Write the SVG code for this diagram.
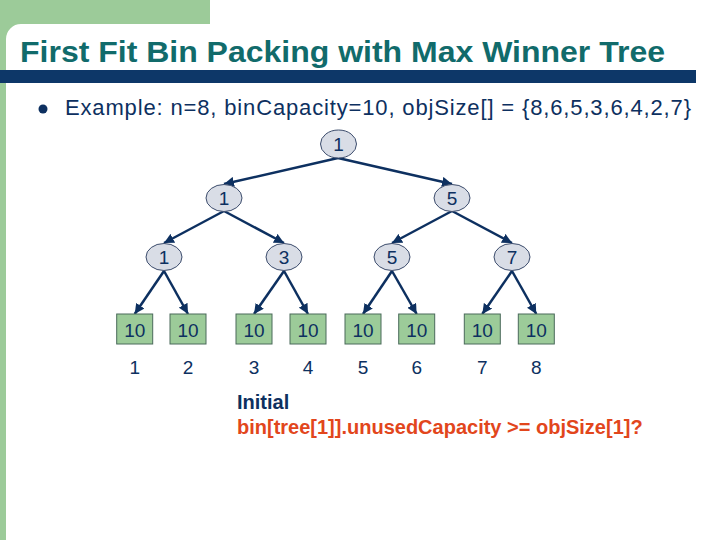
<svg xmlns="http://www.w3.org/2000/svg" width="720" height="540" viewBox="0 0 720 540">
<defs>
<style>
.bg{fill:#9ccb99}
.t{font-family:"Liberation Sans",Arial,sans-serif}
.inner{fill:#d9dde6;stroke:#3c4c6c;stroke-width:1}
.leaf{fill:#9ccb99;stroke:#4a6a5a;stroke-width:1}
.nt{font-family:"Liberation Sans",Arial,sans-serif;font-size:19px;fill:#0d3060;text-anchor:middle}
.edge{stroke:#0d3060;stroke-width:2.5;fill:none;marker-end:url(#ah)}
</style>
<marker id="ah" markerUnits="userSpaceOnUse" markerWidth="10" markerHeight="10" viewBox="0 0 10 10" refX="10" refY="5" orient="auto">
<path d="M0,0 L10,5 L0,10 Z" fill="#0d3060"/>
</marker>
</defs>
<rect width="720" height="540" fill="#ffffff"/>
<path class="bg" d="M0,0 H210 V24 H21 A15,15 0 0 0 6,39 V540 H0 Z"/>
<text class="t" x="20" y="62" font-size="29" font-weight="bold" fill="#116b6b" textLength="645" lengthAdjust="spacingAndGlyphs">First Fit Bin Packing with Max Winner Tree</text>
<rect x="0" y="70" width="696" height="13" fill="#0d3768"/>
<circle cx="43" cy="109" r="4.5" fill="#0d3060"/>
<text class="t" x="65" y="115" font-size="22" fill="#0d3060" textLength="626" lengthAdjust="spacing">Example: n=8, binCapacity=10, objSize[] = {8,6,5,3,6,4,2,7}</text>

<g id="connectors">
<line class="edge" x1="338" y1="158" x2="224" y2="184"/>
<line class="edge" x1="338" y1="158" x2="452" y2="184"/>
<line class="edge" x1="224" y1="211" x2="164" y2="243"/>
<line class="edge" x1="224" y1="211" x2="284" y2="243"/>
<line class="edge" x1="452" y1="211" x2="392" y2="243"/>
<line class="edge" x1="452" y1="211" x2="512" y2="243"/>
<line class="edge" x1="164" y1="271" x2="134.7" y2="314"/>
<line class="edge" x1="164" y1="271" x2="188" y2="314"/>
<line class="edge" x1="284" y1="271" x2="254" y2="314"/>
<line class="edge" x1="284" y1="271" x2="308" y2="314"/>
<line class="edge" x1="392" y1="271" x2="363" y2="314"/>
<line class="edge" x1="392" y1="271" x2="416.7" y2="314"/>
<line class="edge" x1="512" y1="271" x2="482.3" y2="314"/>
<line class="edge" x1="512" y1="271" x2="536.3" y2="314"/>
</g>

<g id="n1"><ellipse class="inner" cx="338.5" cy="144" rx="18" ry="14"/><text class="nt" x="338.5" y="151">1</text></g>
<g id="n2"><ellipse class="inner" cx="224" cy="198" rx="18" ry="13.5"/><text class="nt" x="224" y="205">1</text></g>
<g id="n3"><ellipse class="inner" cx="452" cy="198" rx="18" ry="13.5"/><text class="nt" x="452" y="205">5</text></g>
<g id="n4"><ellipse class="inner" cx="164" cy="257" rx="18" ry="13.5"/><text class="nt" x="164" y="264">1</text></g>
<g id="n5"><ellipse class="inner" cx="284" cy="257" rx="18" ry="13.5"/><text class="nt" x="284" y="264">3</text></g>
<g id="n6"><ellipse class="inner" cx="392" cy="257" rx="18" ry="13.5"/><text class="nt" x="392" y="264">5</text></g>
<g id="n7"><ellipse class="inner" cx="512" cy="257" rx="18" ry="13.5"/><text class="nt" x="512" y="264">7</text></g>

<g id="b1"><rect class="leaf" x="116.7" y="314" width="36" height="30"/><text class="nt" x="134.7" y="337">10</text><text class="nt" x="134.7" y="374">1</text></g>
<g id="b2"><rect class="leaf" x="170" y="314" width="36" height="30"/><text class="nt" x="188" y="337">10</text><text class="nt" x="188" y="374">2</text></g>
<g id="b3"><rect class="leaf" x="236" y="314" width="36" height="30"/><text class="nt" x="254" y="337">10</text><text class="nt" x="254" y="374">3</text></g>
<g id="b4"><rect class="leaf" x="290" y="314" width="36" height="30"/><text class="nt" x="308" y="337">10</text><text class="nt" x="308" y="374">4</text></g>
<g id="b5"><rect class="leaf" x="345" y="314" width="36" height="30"/><text class="nt" x="363" y="337">10</text><text class="nt" x="363" y="374">5</text></g>
<g id="b6"><rect class="leaf" x="398.7" y="314" width="36" height="30"/><text class="nt" x="416.7" y="337">10</text><text class="nt" x="416.7" y="374">6</text></g>
<g id="b7"><rect class="leaf" x="464.3" y="314" width="36" height="30"/><text class="nt" x="482.3" y="337">10</text><text class="nt" x="482.3" y="374">7</text></g>
<g id="b8"><rect class="leaf" x="518.3" y="314" width="36" height="30"/><text class="nt" x="536.3" y="337">10</text><text class="nt" x="536.3" y="374">8</text></g>

<text class="t" x="237" y="409" font-size="20" font-weight="bold" fill="#0d3060">Initial</text>
<text class="t" x="237" y="434" font-size="20" font-weight="bold" fill="#e2461c">bin[tree[1]].unusedCapacity &gt;= objSize[1]?</text>
</svg>
